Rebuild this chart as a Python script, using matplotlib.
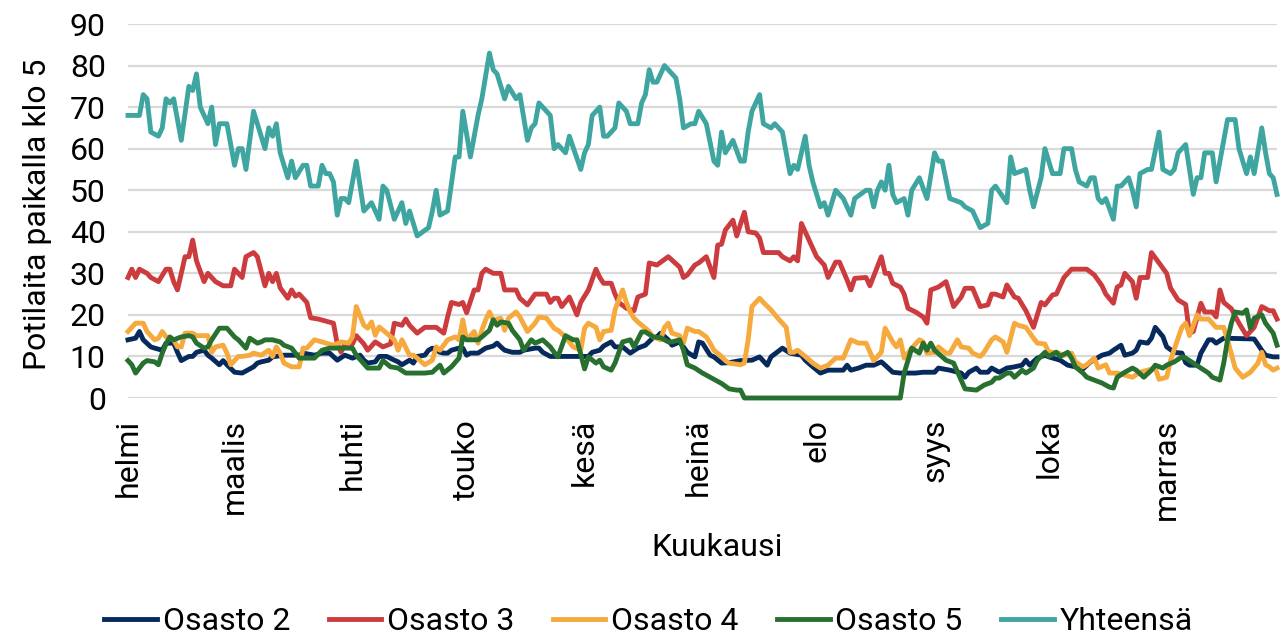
import numpy as np
import matplotlib.pyplot as plt

plt.rcParams['font.family'] = ['Roboto', 'DejaVu Sans']

# päivät laskettu 1.2. alkaen
start = np.datetime64('2023-02-01')

month_starts = ['2023-02-01', '2023-03-01', '2023-04-01', '2023-05-01', '2023-06-01',
                '2023-07-01', '2023-08-01', '2023-09-01', '2023-10-01', '2023-11-01']
months = ['helmi', 'maalis', 'huhti', 'touko', 'kesä', 'heinä', 'elo', 'syys', 'loka', 'marras']

os2_day = [0, 2, 3, 4, 6, 7, 9, 10, 12, 13,
           14, 16, 17, 18, 20, 21, 22, 24, 25, 26,
           28, 30, 33, 34, 35, 37, 38, 41, 43, 45,
           46, 49, 51, 53, 55, 57, 59, 61, 62, 63,
           65, 66, 68, 70, 71, 72, 74, 75, 76, 78,
           79, 80, 82, 83, 84, 85, 87, 88, 89, 90,
           92, 94, 96, 97, 98, 99, 101, 103, 104, 107,
           108, 109, 111, 113, 116, 118, 121, 122, 124, 125,
           127, 128, 130, 132, 134, 136, 138, 139, 140, 142,
           143, 145, 146, 147, 149, 150, 151, 153, 154, 156,
           158, 161, 164, 166, 168, 169, 172, 174, 177, 178,
           180, 182, 184, 188, 189, 190, 192, 194, 196, 198,
           199, 201, 203, 206, 207, 209, 212, 213, 216, 219,
           220, 221, 223, 224, 226, 227, 229, 231, 233, 235,
           236, 237, 239, 241, 242, 245, 247, 249, 251, 253,
           256, 258, 259, 261, 262, 264, 265, 266, 268, 269,
           270, 272, 273, 275, 277, 278, 279, 281, 282, 284,
           285, 286, 288, 296, 298, 299, 301, 302]
os2_val = [14, 14.4, 16, 14, 12.3, 12, 11.5, 13.2, 13.2, 11,
           9, 10, 10, 11, 11.5, 10.3, 9.6, 8, 9, 8,
           6.2, 6, 7.5, 8.4, 8.7, 9.1, 9.9, 10.3, 10.3, 10.3,
           10.8, 10.3, 10.8, 10.8, 9.1, 10.3, 9.6, 10.3, 9.1, 8.4,
           8.7, 10, 10, 9.1, 8.7, 8, 9.1, 8.4, 10, 10.3,
           11.5, 12, 11, 10.8, 10.8, 11.5, 12, 12, 10.3, 10.8,
           10.8, 12, 12.5, 13.2, 12.3, 11.5, 11, 11, 11.5, 12,
           12, 11, 10, 10, 10, 10, 10, 11, 11.5, 12.5,
           13.5, 12.3, 12.3, 10.8, 12, 12.7, 14.5, 14.7, 15.6, 14,
           12.7, 13.5, 12.3, 11, 9.9, 13.5, 13.2, 10.3, 9.9, 8.4,
           8.5, 9, 9.1, 9.9, 7.9, 9.9, 12, 10.8, 10.3, 9.1,
           7.5, 6, 6.7, 6.7, 7.9, 6.7, 7.2, 7.9, 7.9, 8.7,
           7.9, 6.2, 6, 6, 6, 6.2, 6.2, 7.2, 6.7, 6,
           5, 6.2, 7.2, 6.2, 6.2, 7.2, 6.2, 7.2, 7.5, 7.9,
           9.1, 7.9, 9.6, 10.3, 9.9, 9.1, 7.9, 7.5, 7, 8.7,
           10.3, 10.8, 11.5, 12.7, 10.3, 10.8, 11.5, 13.5, 13.2, 14.4,
           17, 14.8, 12.3, 11, 10.8, 8.5, 7.9, 7.9, 10.8, 14,
           14, 13.2, 14.4, 14.2, 11.5, 10.3, 9.9, 9.9]

os3_day = [0, 1, 2, 3, 5, 6, 8, 10, 11, 12,
           13, 15, 16, 17, 18, 20, 21, 23, 25, 27,
           28, 30, 31, 33, 34, 36, 37, 38, 39, 40,
           42, 43, 44, 45, 47, 48, 50, 52, 54, 55,
           56, 57, 59, 60, 62, 63, 65, 67, 69, 70,
           72, 73, 74, 76, 78, 81, 83, 84, 85, 87,
           88, 89, 91, 92, 93, 94, 96, 98, 99, 102,
           103, 105, 107, 110, 111, 112, 113, 114, 116, 118,
           119, 121, 123, 124, 125, 127, 128, 129, 131, 133,
           134, 136, 137, 139, 142, 145, 146, 147, 149, 150,
           152, 154, 155, 156, 157, 159, 160, 162, 163, 165,
           166, 167, 169, 171, 172, 174, 175, 176, 177, 179,
           181, 183, 184, 186, 187, 189, 190, 191, 194, 195,
           198, 199, 200, 201, 203, 204, 205, 207, 209, 210,
           211, 213, 215, 217, 219, 220, 222, 224, 226, 227,
           228, 230, 231, 233, 234, 236, 237, 238, 240, 241,
           243, 244, 246, 248, 250, 252, 254, 256, 257, 259,
           260, 261, 262, 264, 265, 266, 268, 269, 271, 273,
           274, 276, 278, 279, 280, 282, 283, 285, 286, 287,
           288, 290, 292, 294, 296, 298, 300, 301, 302]
os3_val = [29, 31, 29, 31, 30, 29, 28, 31, 31, 28,
           26, 34, 34, 38, 33, 28, 30, 28, 27, 27,
           31, 29, 34, 35, 34, 27, 30, 28, 30, 26.5,
           24, 26, 24.5, 25, 23, 19.3, 19, 18.5, 18, 13,
           11, 13, 13, 15, 13, 11.5, 13.5, 12.3, 13, 18,
           17.5, 19, 17.5, 15.6, 17, 17, 15.6, 19.5, 23, 22.5,
           23, 20.5, 26, 26, 30, 31, 30, 30, 26, 26,
           24, 22.4, 25, 25, 23, 24, 24, 22, 24.3, 20,
           23, 26, 31, 29, 27.6, 27.6, 25, 23, 21.6, 21,
           24.3, 25, 32.5, 32, 34, 31.5, 29, 29.6, 32, 32.5,
           34, 29, 36.8, 37, 40.4, 42.8, 39, 44.7, 40, 39.7,
           38.5, 35, 35, 35, 34, 33, 34, 33, 42, 38,
           34, 32, 29, 32.7, 32.7, 28.4, 26, 28.8, 29, 27,
           34, 30, 30, 27.6, 26.7, 25, 21.6, 20.7, 19.5, 18,
           26, 26.7, 28, 22, 24.3, 26.4, 26.4, 22, 22.4, 25,
           25, 24.3, 27.2, 24.3, 24, 21, 19, 17, 23, 22.4,
           24.8, 25, 29, 31, 31, 31, 29.6, 27, 25, 22.8,
           26.7, 27.2, 30, 28, 24, 29, 29, 35, 32.5, 30,
           26.5, 23.6, 22.5, 15.6, 16, 22.8, 20.7, 20.7, 19.5, 26,
           23, 21.5, 18, 15, 17, 22, 21, 21, 19]

os4_day = [0, 2, 4, 5, 7, 8, 9, 10, 12, 13,
           14, 15, 17, 18, 21, 22, 23, 25, 26, 27,
           29, 30, 32, 33, 35, 37, 38, 39, 40, 41,
           43, 45, 46, 47, 49, 51, 52, 54, 56, 58,
           59, 60, 62, 63, 64, 65, 66, 68, 70, 71,
           72, 74, 75, 76, 78, 80, 81, 82, 84, 86,
           87, 88, 89, 91, 92, 93, 94, 95, 96, 98,
           99, 100, 102, 103, 105, 107, 108, 110, 112, 113,
           115, 117, 119, 120, 121, 123, 124, 125, 127, 128,
           130, 131, 132, 133, 134, 136, 137, 138, 140, 141,
           142, 143, 145, 146, 147, 149, 150, 152, 153, 154,
           156, 157, 158, 161, 162, 163, 164, 166, 167, 169,
           171, 173, 174, 175, 176, 178, 180, 182, 184, 186,
           188, 190, 192, 194, 196, 198, 199, 201, 202, 203,
           204, 206, 208, 209, 210, 212, 213, 215, 216, 218,
           219, 221, 222, 224, 225, 227, 228, 230, 231, 233,
           234, 236, 238, 239, 241, 242, 244, 246, 248, 249,
           251, 252, 254, 255, 257, 258, 260, 262, 264, 266,
           268, 270, 271, 273, 274, 276, 277, 278, 279, 281,
           282, 284, 285, 286, 288, 289, 291, 293, 295, 297,
           298, 299, 300, 301, 302]
os4_val = [16, 18, 18, 16, 14, 14.4, 16, 14.7, 14, 12.3,
           12.3, 15.6, 15.6, 15, 15, 11, 12.3, 12.7, 10.8, 8,
           10, 10, 10.3, 10.8, 10.3, 11.5, 10, 12.3, 10.8, 8.4,
           7.5, 7.5, 12, 12, 14, 13.5, 13.2, 12.7, 13.5, 13.2,
           14.7, 22, 17.5, 16.8, 18.3, 15.1, 17.1, 15.6, 14, 11.5,
           14, 10.3, 10.3, 9.6, 8, 9.1, 12.3, 11.5, 14, 14.7,
           14, 18.8, 14, 16, 13.2, 16.3, 18.8, 20.7, 18.8, 19.2,
           16.3, 19.2, 20.7, 19.5, 16, 18, 19.5, 19.2, 16.8, 16.3,
           14.7, 12.3, 11.5, 16.8, 18, 17, 14, 16, 16.3, 21.2,
           26, 23, 20.7, 19.2, 18.3, 16.8, 16, 14.7, 14, 17,
           18, 15.6, 15, 13.2, 16.8, 16, 16, 14.7, 13.2, 11.5,
           10, 9, 8.4, 8, 8.4, 14, 22, 24, 23, 21.2,
           19, 17, 11, 11, 11.5, 10, 8.4, 7.2, 7.9, 9.6,
           9.6, 14, 13.2, 13.2, 9, 11, 16.8, 13.5, 12.3, 14,
           9.6, 12, 14, 13.5, 10.8, 11, 12.3, 10.8, 10.8, 14,
           12.3, 12, 10.8, 10, 11, 14, 14.7, 13.5, 11, 18,
           17.5, 17, 14.4, 13.2, 13, 11, 11, 10.3, 10.8, 8.7,
           7.5, 8, 9.6, 7.2, 8, 6, 6, 5.5, 5, 6.2,
           6.7, 7.2, 4.5, 5, 9, 14.4, 17, 18, 15, 20,
           19, 19, 18, 17, 17, 14, 7.2, 5, 6.2, 8.4,
           11, 8, 7.5, 6.7, 7.2]

os5_day = [0, 1, 2, 4, 5, 7, 8, 9, 10, 11,
           12, 14, 16, 17, 18, 20, 21, 22, 24, 26,
           28, 29, 31, 32, 34, 35, 36, 38, 40, 41,
           43, 44, 45, 49, 51, 53, 59, 60, 63, 66,
           67, 69, 71, 73, 78, 80, 82, 83, 85, 87,
           88, 89, 92, 93, 95, 96, 97, 98, 100, 101,
           103, 104, 106, 107, 109, 111, 112, 113, 115, 117,
           118, 120, 121, 123, 124, 125, 127, 128, 130, 132,
           133, 135, 136, 138, 140, 142, 143, 145, 146, 147,
           149, 151, 153, 154, 156, 158, 160, 161, 162, 203,
           204, 206, 208, 209, 210, 211, 212, 214, 215, 217,
           219, 220, 223, 225, 227, 228, 229, 231, 232, 233,
           235, 236, 238, 239, 241, 242, 244, 245, 247, 248,
           249, 251, 252, 254, 256, 258, 259, 260, 262, 264,
           265, 267, 269, 270, 272, 273, 275, 277, 278, 280,
           282, 284, 285, 287, 288, 289, 290, 291, 293, 294,
           295, 296, 298, 299, 301, 302]
os5_val = [9, 8, 6, 8.4, 9, 8.7, 8, 10.8, 13, 14.7,
           14, 14.7, 15, 14.7, 13.2, 12, 12.3, 14, 16.8, 16.8,
           14.7, 14, 12, 14.4, 13.2, 13.5, 14, 14, 13.5, 12.7,
           12, 10.8, 9.6, 9.6, 11.5, 12, 12, 10.3, 7.2, 7.2,
           9, 7.5, 7.2, 6, 6, 6.2, 7.9, 6, 7.5, 9.6,
           14.7, 14, 14, 14.7, 16.3, 18.8, 17.5, 18.3, 18, 16.3,
           14, 11.5, 14, 13.2, 14, 12.3, 11, 9.9, 15, 14,
           14, 7, 9.9, 8.4, 9.1, 7.5, 6.7, 8.4, 13.5, 14,
           12.3, 15.9, 15.9, 14.7, 14.5, 13.5, 13.5, 14, 11.5, 8,
           7.2, 6, 5, 4.5, 3.5, 2.2, 1.9, 1.9, 0, 0,
           6, 12, 10.8, 13.2, 11.5, 13.2, 11.5, 9.9, 9.1, 8.4,
           4.3, 2.2, 1.9, 3.1, 3.8, 4.8, 4.8, 6, 6, 5,
           6.7, 6, 7.2, 9.1, 11, 10, 11, 10, 11, 9.6,
           7.5, 6, 5, 4.3, 3.6, 2.6, 2.4, 5, 6.2, 7.2,
           6.7, 5, 6.7, 7.9, 7.2, 7.9, 8.7, 9.9, 9.6, 8.4,
           7.2, 6, 5, 4.3, 8.4, 14, 18, 20.7, 20.4, 21.2,
           16.8, 19.2, 20, 18, 15.6, 12.7]

yht_day = [0, 3, 4, 5, 6, 8, 9, 10, 11, 12,
           14, 16, 17, 18, 19, 21, 22, 23, 24, 26,
           28, 29, 30, 31, 33, 34, 36, 37, 38, 39,
           40, 42, 43, 44, 46, 47, 48, 50, 51, 52,
           53, 54, 55, 56, 57, 58, 60, 62, 64, 66,
           67, 68, 70, 71, 72, 73, 74, 76, 79, 80,
           81, 82, 84, 86, 87, 88, 90, 92, 93, 95,
           96, 97, 99, 100, 102, 103, 105, 106, 107, 108,
           111, 112, 113, 115, 116, 119, 120, 121, 122, 124,
           125, 126, 127, 128, 129, 131, 132, 134, 135, 136,
           137, 138, 139, 141, 143, 144, 145, 146, 148, 149,
           150, 152, 154, 155, 156, 157, 159, 161, 162, 163,
           164, 166, 167, 169, 170, 172, 173, 174, 175, 176,
           178, 179, 180, 182, 183, 184, 186, 188, 190, 191,
           194, 195, 196, 197, 198, 199, 200, 201, 202, 204,
           205, 206, 208, 210, 212, 213, 214, 216, 219, 220,
           222, 224, 226, 227, 228, 231, 232, 233, 236, 237,
           238, 240, 241, 243, 245, 246, 248, 249, 250, 252,
           253, 254, 255, 256, 257, 259, 260, 261, 263, 264,
           265, 266, 268, 269, 271, 272, 274, 275, 276, 278,
           279, 280, 281, 282, 283, 285, 286, 288, 289, 291,
           292, 294, 295, 296, 298, 299, 300, 301, 302]
yht_val = [68, 68, 73, 72, 64, 63, 65, 72, 71, 72,
           62, 75, 74, 78, 70, 66, 70, 61, 66, 66,
           56, 60, 60, 55, 69, 66, 60, 65, 63, 66,
           59, 53, 57, 53, 56, 56, 51, 51, 56, 54,
           54, 52, 44, 48, 48, 47, 57, 45, 47, 43,
           51, 50, 43, 45, 47, 42, 45, 39, 41, 45,
           50, 44, 45, 58, 58, 69, 58, 68, 72, 83,
           79, 78, 72, 75, 72, 73, 62, 65, 66, 71,
           68, 60, 61, 59, 63, 55, 59, 61, 68, 70,
           63, 63, 64, 65, 71, 69, 66, 66, 71, 73,
           79, 76, 76, 80, 78, 77, 72, 65, 66, 66,
           69, 66, 57, 56, 64, 59, 62, 57, 57, 64,
           69, 73, 66, 65, 66, 64, 59, 54, 56, 55,
           63, 56, 52, 46, 47, 44, 50, 48, 44, 48,
           50, 50, 46, 50, 52, 50, 56, 49, 47, 48,
           44, 50, 53, 48, 59, 57, 57, 48, 47, 46,
           45, 41, 42, 50, 51, 47, 58, 54, 55, 50,
           46, 53, 60, 54, 54, 60, 60, 55, 52, 51,
           53, 53, 48, 47, 48, 43, 51, 51, 53, 50,
           46, 54, 55, 55, 64, 55, 54, 55, 59, 61,
           55, 49, 53, 53, 59, 59, 52, 62, 67, 67,
           60, 54, 58, 54, 65, 59, 54, 53, 49]

series = [
    ('Osasto 2', os2_day, os2_val, '#062a5c'),
    ('Osasto 3', os3_day, os3_val, '#cc3c3f'),
    ('Osasto 4', os4_day, os4_val, '#f6a93c'),
    ('Osasto 5', os5_day, os5_val, '#27702f'),
    ('Yhteensä', yht_day, yht_val, '#3fa5a0'),
]

fs = 23

fig = plt.figure(figsize=(12.84, 6.39), dpi=100)
ax = fig.add_axes([128 / 1284, 1 - 398 / 639, (1277 - 128) / 1284, (398 - 24) / 639])

for name, d, v, c in series:
    ax.plot(start + np.array(d), v, color=c, lw=3.5, label=name,
            clip_on=False, solid_joinstyle='round')

ax.set_xlim(start, start + 302)
ax.set_ylim(0, 90)
ax.set_yticks(range(0, 91, 10))
ax.set_xticks(np.array(month_starts, dtype='datetime64[D]'))
ax.set_xticklabels(months, rotation=90, va='top', ha='center')

ax.grid(axis='y', color='#d9d9d9', lw=1.6)
ax.set_axisbelow(True)
for s in ax.spines.values():
    s.set_visible(False)
ax.tick_params(axis='both', length=0, labelsize=fs, colors='black')
ax.tick_params(axis='y', pad=16)
ax.tick_params(axis='x', pad=15)

ax.set_ylabel('Potilaita paikalla klo 5', fontsize=fs)
ax.yaxis.set_label_coords(-0.066, 0.49)
ax.set_xlabel('Kuukausi', fontsize=fs)
ax.xaxis.set_label_coords(0.513, -0.36)

fig.legend(loc='lower center', bbox_to_anchor=(0.505, -0.04), ncol=5, frameon=False,
           fontsize=fs, handlelength=1.65, handletextpad=0.18, columnspacing=1.2)

fig.savefig('out.png', dpi=100)
